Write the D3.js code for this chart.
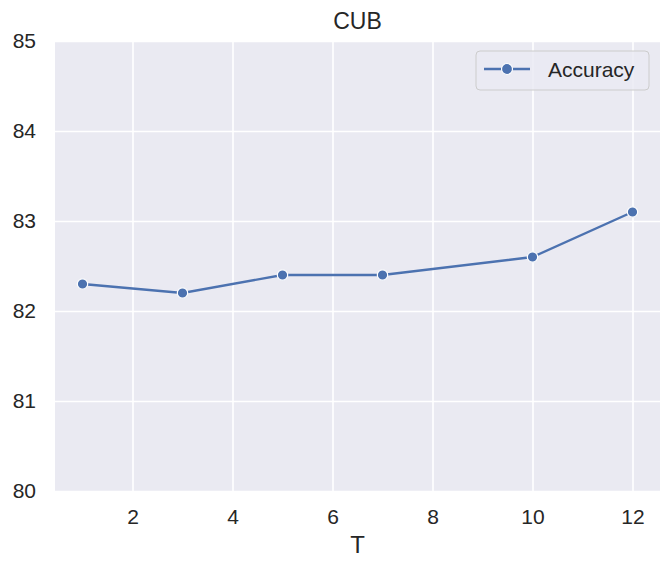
<!DOCTYPE html>
<html><head><meta charset="utf-8">
<script src="https://cdn.jsdelivr.net/npm/d3@7"></script>
<style>body{margin:0;background:#fff}svg{display:block}text{font-family:Arial,"Liberation Sans",sans-serif;fill:#262626}</style>
</head><body><svg id="c" width="672" height="570"></svg>
<script>
const xValues = [1, 3, 5, 7, 10, 12];
const accuracy = [82.3, 82.2, 82.4, 82.4, 82.6, 83.1];
const xTicks = [2, 4, 6, 8, 10, 12];
const yTicks = [80, 81, 82, 83, 84, 85];
const title = "CUB";
const xLabel = "T";
const seriesName = "Accuracy";

const svg = d3.select("#c");
const L = 55, R = 660, T = 41, B = 491;
const x = d3.scaleLinear().domain([0.45, 12.55]).range([L, R]);
const y = d3.scaleLinear().domain([80, 85]).range([B, T]);
const color = "#4c72b0";

svg.append("rect").attr("x", L).attr("y", T).attr("width", R - L).attr("height", B - T).attr("fill", "#eaeaf2");

const gx = svg.append("g").attr("transform", `translate(0,${B})`)
  .call(d3.axisBottom(x).tickValues(xTicks).tickFormat(d3.format("d")).tickSize(-(B - T)).tickPadding(18));
const gy = svg.append("g").attr("transform", `translate(${L},0)`)
  .call(d3.axisLeft(y).tickValues(yTicks).tickFormat(d3.format("d")).tickSize(-(R - L)).tickPadding(19));
[gx, gy].forEach(g => {
  g.select(".domain").remove();
  g.selectAll(".tick line").attr("stroke", "#fff").attr("stroke-width", 1.6);
  g.selectAll(".tick text").attr("font-size", 21).attr("fill", "#262626")
    .style("font-family", "Arial, 'Liberation Sans', sans-serif");
});

const line = d3.line().x((d, i) => x(xValues[i])).y(d => y(d));
svg.append("path").datum(accuracy).attr("d", line).attr("fill", "none")
  .attr("stroke", color).attr("stroke-width", 2.4);
svg.selectAll("circle.pt").data(accuracy).join("circle").attr("class", "pt")
  .attr("cx", (d, i) => x(xValues[i])).attr("cy", d => y(d)).attr("r", 5.2)
  .attr("fill", color).attr("stroke", "#fff").attr("stroke-width", 1.2);

svg.append("text").attr("x", (L + R) / 2).attr("y", 29).attr("text-anchor", "middle")
  .attr("font-size", 23).text(title);
svg.append("text").attr("x", (L + R) / 2).attr("y", 553).attr("text-anchor", "middle")
  .attr("font-size", 24).text(xLabel);

const lg = svg.append("g");
lg.append("rect").attr("x", 476).attr("y", 51).attr("width", 173).attr("height", 39).attr("rx", 4)
  .attr("fill", "#eaeaf2").attr("fill-opacity", 0.8).attr("stroke", "#cccccc").attr("stroke-width", 1);
lg.append("line").attr("x1", 484).attr("x2", 530).attr("y1", 69).attr("y2", 69)
  .attr("stroke", color).attr("stroke-width", 2.4);
lg.append("circle").attr("cx", 507).attr("cy", 69).attr("r", 5.5).attr("fill", color)
  .attr("stroke", "#fff").attr("stroke-width", 1.2);
lg.append("text").attr("x", 548).attr("y", 77).attr("font-size", 21).text(seriesName);
</script></body></html>
